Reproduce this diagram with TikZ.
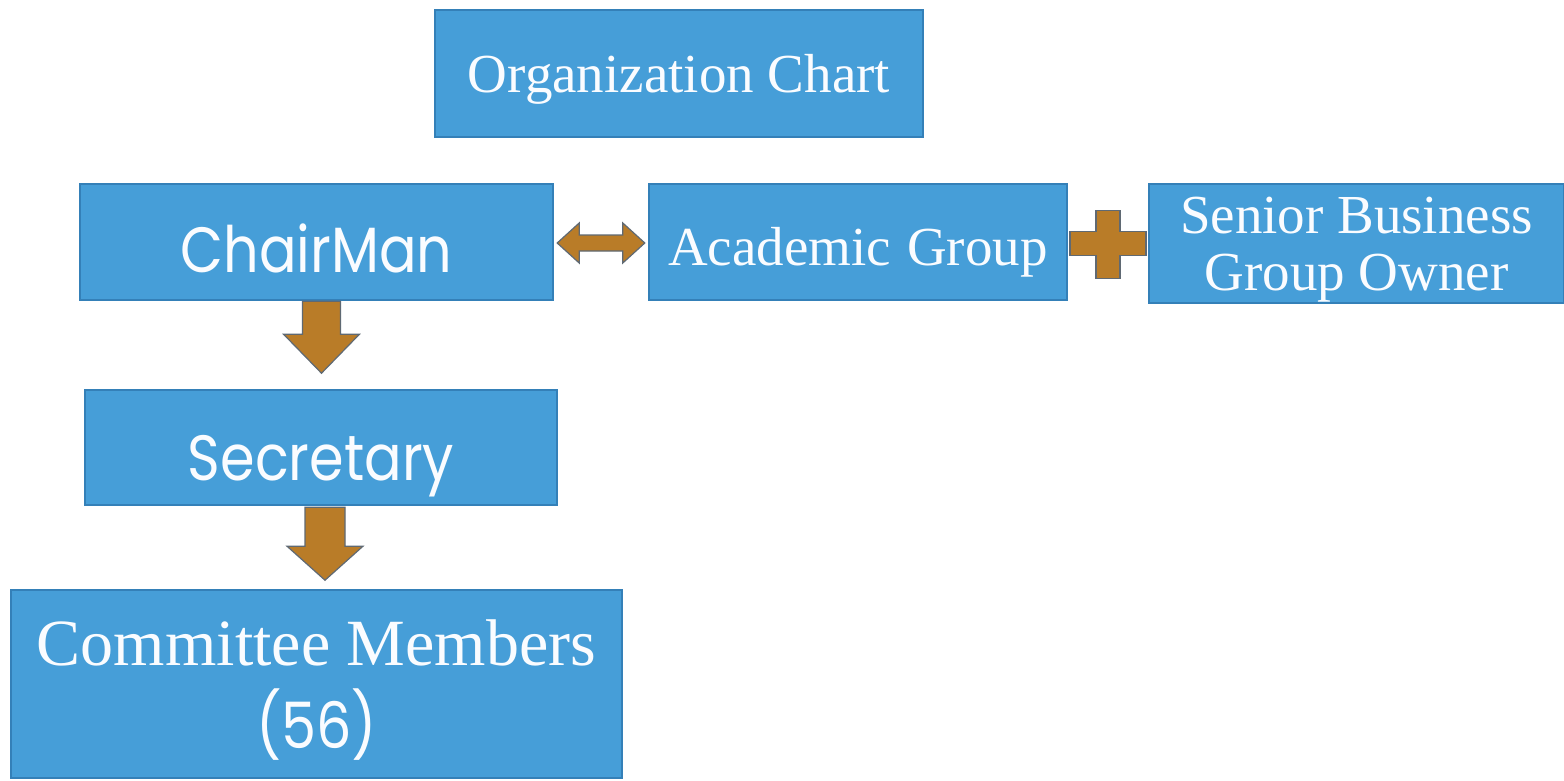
\documentclass[tikz,border=0pt]{standalone}
\usepackage{fontspec}
\setmainfont{Liberation Serif}
\newfontfamily\gothic[FakeStretch=0.87]{Poppins}
\usetikzlibrary{calc}
\definecolor{boxfill}{RGB}{70,158,216}
\definecolor{boxline}{RGB}{52,128,184}
\definecolor{arrfill}{RGB}{185,124,40}
\definecolor{arrline}{RGB}{95,105,115}
\definecolor{txt}{RGB}{250,252,255}
\begin{document}
\begin{tikzpicture}[x=0.5pt,y=-0.5pt,
  box/.style={draw=boxline,line width=1.2pt,fill=boxfill,inner sep=0pt},
  lbl/.style={text=txt,inner sep=0pt,text height=0pt,text depth=0pt},
  seriftxt/.style={lbl,font=\fontsize{27.5}{30}\selectfont},
  gothtxt/.style={lbl,font=\gothic\fontsize{32}{34}\selectfont},
  blockarrow/.style={fill=arrfill,draw=arrline,line width=0.6pt,line join=miter}]
\useasboundingbox (0,0) rectangle (1564,781);
\fill[white] (0,0) rectangle (1564,781);
\node[box,minimum width=244pt,minimum height=63.5pt,
  label={[seriftxt,yshift=-9.75pt]center:Organization Chart}] (org) at (679,73.5) {};
\node[box,minimum width=236.5pt,minimum height=58pt,
  label={[gothtxt,yshift=-15pt]center:ChairMan}] (chair) at (316.5,242) {};
\node[box,minimum width=209pt,minimum height=58pt,
  label={[seriftxt,yshift=-11.5pt]center:Academic\hspace{8pt}Group}] (acad) at (858,242) {};
\node[box,minimum width=207.5pt,minimum height=59.5pt,
  label={[seriftxt,yshift=5.25pt]center:Senior Business},
  label={[seriftxt,yshift=-23.25pt]center:Group Owner}] (senior) at (1356.5,243.5) {};
\node[box,minimum width=236pt,minimum height=57.5pt,
  label={[gothtxt,yshift=-16.25pt]center:Secretary}] (sec) at (321,447.5) {};
\node[box,minimum width=305.5pt,minimum height=94pt,
  label={[lbl,font=\fontsize{33}{36}\selectfont,yshift=9.5pt]center:Committee Members},
  label={[gothtxt,yshift=-32pt]center:(56)}] (comm) at (316.5,684) {};
% down arrow chairman -> secretary
\coordinate (a1) at ($(chair.south)+(5,0)$);
\draw[blockarrow] ($(a1)+(-19,0)$) -- ($(a1)+(19,0)$) -- ($(a1)+(19,33)$) -- ($(a1)+(38,33)$)
  -- ($(a1)+(0,72)$) -- ($(a1)+(-38,33)$) -- ($(a1)+(-19,33)$) -- cycle;
% down arrow secretary -> committee
\coordinate (a2) at ($(sec.south)+(4,1)$);
\draw[blockarrow] ($(a2)+(-20,0)$) -- ($(a2)+(20,0)$) -- ($(a2)+(20,39)$) -- ($(a2)+(38,39)$)
  -- ($(a2)+(0,73)$) -- ($(a2)+(-38,39)$) -- ($(a2)+(-20,39)$) -- cycle;
% double arrow chairman <-> academic
\coordinate (dl) at ($(chair.east)+(3,1)$);
\coordinate (dr) at ($(acad.west)+(-3,1)$);
\draw[blockarrow] (dl) -- ($(dl)+(22,-20)$) -- ($(dl)+(22,-8)$) -- ($(dr)+(-22,-8)$) -- ($(dr)+(-22,-20)$)
  -- (dr) -- ($(dr)+(-22,20)$) -- ($(dr)+(-22,8)$) -- ($(dl)+(22,8)$) -- ($(dl)+(22,20)$) -- cycle;
% plus between academic and senior
\coordinate (pc) at ($(acad.east)!0.5!(senior.west)+(0,1)$);
\draw[blockarrow] ($(pc)+(-12,-33)$) -- ($(pc)+(12,-33)$) -- ($(pc)+(12,-12)$) -- ($(pc)+(38,-12)$)
  -- ($(pc)+(38,12)$) -- ($(pc)+(12,12)$) -- ($(pc)+(12,35)$) -- ($(pc)+(-12,35)$) -- ($(pc)+(-12,12)$)
  -- ($(pc)+(-38,12)$) -- ($(pc)+(-38,-12)$) -- ($(pc)+(-12,-12)$) -- cycle;
\end{tikzpicture}
\end{document}
